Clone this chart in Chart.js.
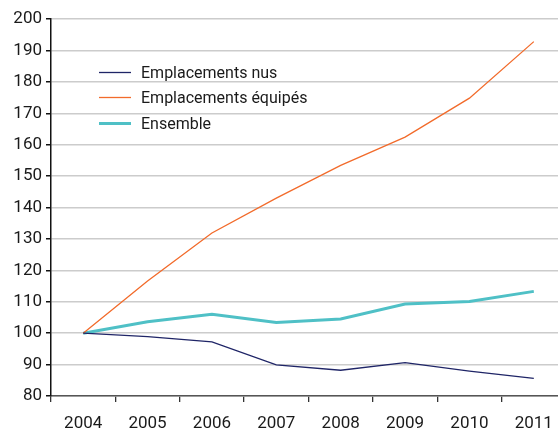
<!DOCTYPE html>
<html>
<head>
<meta charset="utf-8">
<script src="https://cdn.jsdelivr.net/npm/chart.js@4/dist/chart.umd.min.js"></script>
<style>
  html, body { margin: 0; padding: 0; background: #fff; overflow: hidden; }
  #wrap { width: 566px; height: 430px; }
</style>
</head>
<body>
<div id="wrap"><canvas id="myChart"></canvas></div>
<script>
// data
const years = ['2004', '2005', '2006', '2007', '2008', '2009', '2010', '2011']
const nus = [100, 98.9, 97.2, 89.9, 88.2, 90.6, 87.9, 85.6]
const equipes = [100, 116.6, 131.9, 143.0, 153.4, 162.4, 174.8, 192.8]
const ensemble = [100, 103.6, 106.0, 103.4, 104.5, 109.3, 110.1, 113.3]
const seriesNames = ['Emplacements nus', 'Emplacements équipés', 'Ensemble']

const FONT = 'Roboto, "Liberation Sans", Arial, sans-serif'

//legend drawn inside the plot, like the original
const insideLegend = {
    id: 'insideLegend',
    afterDraw(chart) {
        const ctx = chart.ctx
        const rows = [72.5, 97.5, 123.5]
        ctx.save()
        chart.data.datasets.forEach((ds, i) => {
            ctx.strokeStyle = ds.borderColor
            ctx.lineWidth = ds.borderWidth
            ctx.beginPath()
            ctx.moveTo(99, rows[i])
            ctx.lineTo(131, rows[i])
            ctx.stroke()
            ctx.fillStyle = '#1a1a1a'
            ctx.font = '16px ' + FONT
            ctx.textBaseline = 'middle'
            ctx.fillText(ds.label, 141, rows[i] + 1)
        })
        ctx.restore()
    }
}

let ctx = document.getElementById('myChart').getContext('2d')
const data = {
    labels: years,
    datasets: [
        { label: seriesNames[0], data: nus, borderColor: '#1f2567', borderWidth: 1.3 },
        { label: seriesNames[1], data: equipes, borderColor: '#f26b2b', borderWidth: 1.3 },
        { label: seriesNames[2], data: ensemble, borderColor: '#4fc0c6', borderWidth: 3 }
    ]
}
data.datasets.forEach(d => { d.fill = false; d.pointRadius = 0; d.tension = 0 })

const config = {
    type: 'line',
    data: data,
    options: {
        responsive: true,
        maintainAspectRatio: false,
        animation: false,
        layout: { padding: { top: 19, right: 0, left: 0, bottom: 0 } },
        plugins: { legend: { display: false }, tooltip: { enabled: false } },
        scales: {
            x: {
                offset: true,
                grid: { drawOnChartArea: false, offset: true, tickLength: 6, tickColor: '#333', lineWidth: 1.3 },
                border: { color: '#555', width: 1.5 },
                ticks: { color: '#1a1a1a', font: { size: 17, family: FONT }, padding: 12, maxRotation: 0 },
                afterFit(scale) { scale.height = 34 }
            },
            y: {
                min: 80,
                max: 200,
                ticks: { stepSize: 10, color: '#1a1a1a', font: { size: 17, family: FONT }, padding: 4 },
                grid: { color: '#cccccc', lineWidth: 1.5, tickLength: 5, tickColor: '#111' },
                border: { color: '#111', width: 1.5 },
                afterFit(scale) { scale.width = 51 }
            }
        }
    },
    plugins: [insideLegend]
}
let chart = new Chart(ctx, config)
</script>
</body>
</html>
